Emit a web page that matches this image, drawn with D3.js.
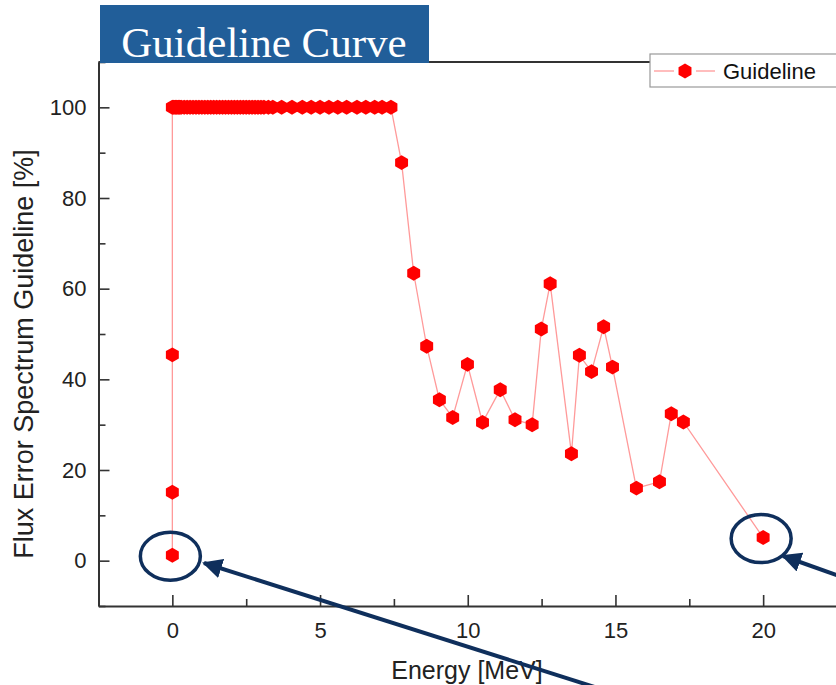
<!DOCTYPE html>
<html>
<head>
<meta charset="utf-8">
<script src="https://cdn.jsdelivr.net/npm/d3@7"></script>
<style>
  html, body { margin: 0; padding: 0; background: #fff; }
  svg { display: block; }
</style>
</head>
<body>
<div id="chart"></div>
<script>
// energies (MeV) and guideline values (%)
const energy = [
  0, 0, 0, 0,
  0.05, 0.1, 0.15, 0.2, 0.25, 0.3, 0.4, 0.5, 0.6, 0.7, 0.8, 0.9, 1.0,
  1.1, 1.2, 1.3, 1.4, 1.5, 1.6, 1.7, 1.8, 1.9, 2.0, 2.1, 2.2, 2.3, 2.4,
  2.5, 2.6, 2.7, 2.8, 2.9, 3.0, 3.1, 3.25, 3.4, 3.7, 4.05, 4.4, 4.7,
  5.0, 5.3, 5.6, 5.9, 6.25, 6.55, 6.85, 7.1, 7.4,
  7.76, 8.17, 8.61, 9.04, 9.49, 9.99, 10.5, 11.1, 11.6, 12.18, 12.49,
  12.79, 13.51, 13.78, 14.19, 14.6, 14.9, 15.71, 16.49, 16.89, 17.3, 20.0
];
const guideline = [
  1.2, 15.1, 45.4, 100,
  100, 100, 100, 100, 100, 100, 100, 100, 100, 100, 100, 100, 100,
  100, 100, 100, 100, 100, 100, 100, 100, 100, 100, 100, 100, 100, 100,
  100, 100, 100, 100, 100, 100, 100, 100, 100, 100, 100, 100, 100,
  100, 100, 100, 100, 100, 100, 100, 100, 100,
  87.8, 63.4, 47.3, 35.5, 31.6, 43.3, 30.5, 37.7, 31.1, 30.0, 51.1,
  61.1, 23.6, 45.3, 41.7, 51.6, 42.7, 16.0, 17.4, 32.4, 30.6, 5.1
];
const xTicks = [0, 5, 10, 15, 20];
const xMinor = [-2.5, 2.5, 7.5, 12.5, 17.5];
const yTicks = [0, 20, 40, 60, 80, 100];
const yMinor = [-10, 10, 30, 50, 70, 90, 110];
// points that get circled on the slide
const circled = [0, energy.length - 1];

const width = 836, height = 685;
const margin = { top: 62, right: -1, bottom: 79, left: 98.5 };

const svg = d3.select('#chart').append('svg')
  .attr('width', width)
  .attr('height', height);

const x = d3.scaleLinear().domain([-2.5, 22.5]).range([margin.left, width - margin.right]);
const y = d3.scaleLinear().domain([-10, 110]).range([height - margin.bottom, margin.top]);

const axisColor = '#333';
const font = '"Liberation Sans", Arial, sans-serif';

// top frame line
svg.append('line')
  .attr('x1', margin.left).attr('x2', width)
  .attr('y1', margin.top).attr('y2', margin.top)
  .attr('stroke', axisColor).attr('stroke-width', 2);

// x axis, ticks inward
svg.append('g')
  .attr('transform', `translate(0,${y(-10)})`)
  .call(d3.axisBottom(x).tickValues(xTicks).tickSize(-11).tickPadding(16).tickSizeOuter(0));
svg.append('g')
  .attr('transform', `translate(0,${y(-10)})`)
  .call(d3.axisBottom(x).tickValues(xMinor).tickSize(-7).tickFormat('').tickSizeOuter(0))
  .call(g => g.select('.domain').remove());

// y axis, ticks inward
svg.append('g')
  .attr('transform', `translate(${margin.left},0)`)
  .call(d3.axisLeft(y).tickValues(yTicks).tickSize(-11).tickPadding(12).tickSizeOuter(0));
svg.append('g')
  .attr('transform', `translate(${margin.left},0)`)
  .call(d3.axisLeft(y).tickValues(yMinor).tickSize(-7).tickFormat('').tickSizeOuter(0))
  .call(g => g.select('.domain').remove());

svg.selectAll('.domain').attr('stroke', axisColor).attr('stroke-width', 2);
svg.selectAll('.tick line').attr('stroke', axisColor).attr('stroke-width', 1.6);
svg.selectAll('.tick text')
  .attr('fill', '#222')
  .style('font-family', font)
  .style('font-size', '22px');

// axis titles
svg.append('text')
  .attr('x', 467).attr('y', 679)
  .attr('text-anchor', 'middle')
  .attr('fill', '#222')
  .style('font-family', font).style('font-size', '25px')
  .text('Energy [MeV]');

svg.append('text')
  .attr('transform', 'translate(33,354) rotate(-90)')
  .attr('text-anchor', 'middle')
  .attr('fill', '#222')
  .style('font-family', font).style('font-size', '27px')
  .text('Flux Error Spectrum Guideline [%]');

// series
const pts = energy.map((e, i) => [e, guideline[i]]);
const line = d3.line().x(d => x(d[0])).y(d => y(d[1]));

svg.append('path')
  .datum(pts)
  .attr('d', line)
  .attr('fill', 'none')
  .attr('stroke', '#ff9a9a')
  .attr('stroke-width', 1.3);

const hexagon = d3.symbol().type({
  draw(ctx, size) {
    const r = Math.sqrt(size / 2.6);
    for (let k = 0; k < 6; k++) {
      const a = Math.PI / 2 + k * Math.PI / 3;
      const px = r * Math.cos(a), py = r * Math.sin(a);
      if (k === 0) ctx.moveTo(px, py); else ctx.lineTo(px, py);
    }
    ctx.closePath();
  }
}).size(145);

svg.append('g').selectAll('path')
  .data(pts)
  .join('path')
  .attr('transform', d => `translate(${x(d[0])},${y(d[1])})`)
  .attr('d', hexagon)
  .attr('fill', '#ff0000');

// legend
const lg = svg.append('g').attr('transform', 'translate(650,54)');
lg.append('rect')
  .attr('width', 200).attr('height', 33)
  .attr('fill', '#fff').attr('stroke', '#999').attr('stroke-width', 1.2);
lg.append('g').selectAll('line')
  .data([[4, 24], [46, 65]])
  .join('line')
  .attr('x1', d => d[0]).attr('x2', d => d[1]).attr('y1', 17).attr('y2', 17)
  .attr('stroke', '#ff9a9a').attr('stroke-width', 1.3);
lg.append('path')
  .attr('transform', 'translate(35,17)')
  .attr('d', hexagon)
  .attr('fill', '#ff0000');
lg.append('text')
  .attr('x', 73).attr('y', 25)
  .attr('fill', '#111')
  .style('font-family', font).style('font-size', '22px')
  .text('Guideline');

// title banner
svg.append('rect')
  .attr('x', 100).attr('y', 5).attr('width', 329).attr('height', 58)
  .attr('fill', '#215e99');
svg.append('text')
  .attr('x', 264).attr('y', 57)
  .attr('text-anchor', 'middle')
  .attr('fill', '#fff')
  .style('font-family', '"Liberation Serif", "Times New Roman", serif')
  .style('font-size', '43px')
  .text('Guideline Curve');

// callouts
const navy = '#0f2f5c';
svg.append('defs').append('marker')
  .attr('id', 'head')
  .attr('viewBox', '0 0 10 10')
  .attr('refX', 9).attr('refY', 5)
  .attr('markerWidth', 5).attr('markerHeight', 5)
  .attr('orient', 'auto')
  .append('path').attr('d', 'M0,0L10,5L0,10Z').attr('fill', navy);

svg.append('g').selectAll('ellipse')
  .data(circled)
  .join('ellipse')
  .attr('cx', i => x(energy[i]) - 2)
  .attr('cy', i => y(guideline[i]) + 1)
  .attr('rx', 30).attr('ry', 24)
  .attr('fill', 'none')
  .attr('stroke', navy).attr('stroke-width', 3.5);

const arrows = [
  { from: [604, 690], to: [204, 563] },
  { from: [842, 577], to: [783, 556] }
];
svg.append('g').selectAll('line')
  .data(arrows)
  .join('line')
  .attr('x1', d => d.from[0]).attr('y1', d => d.from[1])
  .attr('x2', d => d.to[0]).attr('y2', d => d.to[1])
  .attr('stroke', navy).attr('stroke-width', 4)
  .attr('marker-end', 'url(#head)');
</script>
</body>
</html>
